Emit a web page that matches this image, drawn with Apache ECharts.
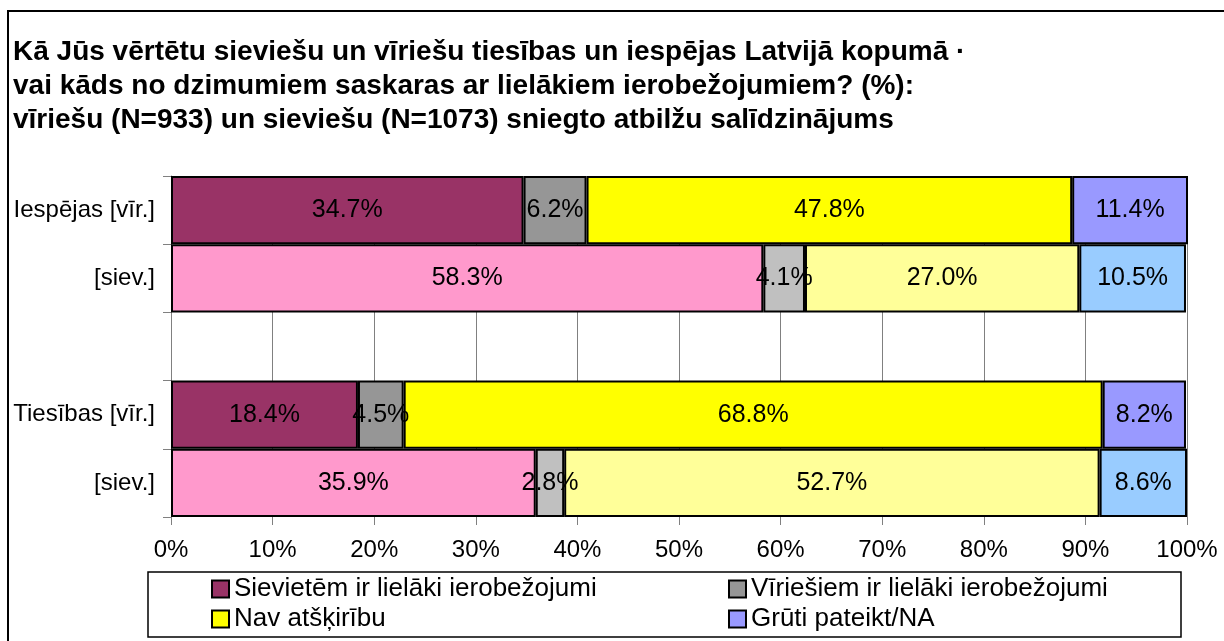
<!DOCTYPE html>
<html>
<head>
<meta charset="utf-8">
<script src="https://cdn.jsdelivr.net/npm/echarts@6/dist/echarts.min.js"></script>
<style>
  html, body { margin: 0; padding: 0; background: #fff; }
  #chart { width: 1224px; height: 641px; }
</style>
</head>
<body>
<div id="chart"></div>
<script>
var categories = ['Iespējas [vīr.]', '[siev.]', '', 'Tiesības [vīr.]', '[siev.]'];
var seriesNames = ['Sievietēm ir lielāki ierobežojumi', 'Vīriešiem ir lielāki ierobežojumi', 'Nav atšķirību', 'Grūti pateikt/NA'];
// values per row (same order as categories), null for the empty row
var sievietem = [34.7, 58.3, null, 18.4, 35.9];
var viriesiem = [6.2, 4.1, null, 4.5, 2.8];
var navAtskiribu = [47.8, 27.0, null, 68.8, 52.7];
var gruti = [11.4, 10.5, null, 8.2, 8.6];
var tickLabels = ['0%', '10%', '20%', '30%', '40%', '50%', '60%', '70%', '80%', '90%', '100%'];

var maleColors = ['#993366', '#969696', '#ffff00', '#9999ff'];
var femaleColors = ['#ff99cc', '#c0c0c0', '#ffff99', '#99ccff'];
var femaleRows = [1, 4];

var font = 'Liberation Sans, Arial, sans-serif';
var el = document.getElementById('chart');
var myChart = echarts.init(el);

function makeSeries(idx, values) {
  return {
    name: seriesNames[idx],
    type: 'bar',
    stack: 'total',
    barWidth: '100%',
    itemStyle: { color: maleColors[idx], borderColor: '#000', borderWidth: 2 },
    label: {
      show: true,
      position: 'inside',
      color: '#000',
      fontFamily: font,
      fontSize: 25,
      formatter: function (p) { return p.value.toFixed(1) + '%'; }
    },
    data: values.map(function (v, i) {
      if (v === null) return null;
      if (femaleRows.indexOf(i) >= 0) {
        return { value: v, itemStyle: { color: femaleColors[idx] } };
      }
      return v;
    })
  };
}

// one legend per entry so the two columns line up like the original
var legendPos = [[211, 576], [728, 576], [211, 606], [728, 606]];
var legends = seriesNames.map(function (name, i) {
  return {
    data: [name],
    left: legendPos[i][0],
    top: legendPos[i][1],
    itemWidth: 17,
    itemHeight: 17,
    itemGap: 0,
    icon: 'rect',
    itemStyle: { borderColor: '#000', borderWidth: 2 },
    textStyle: { fontFamily: font, fontSize: 26, color: '#000' },
    padding: 0,
    selectedMode: false
  };
});

var option = {
  animation: false,
  title: {
    text: 'Kā Jūs vērtētu sieviešu un vīriešu tiesības un iespējas Latvijā kopumā ·\nvai kāds no dzimumiem saskaras ar lielākiem ierobežojumiem? (%):\nvīriešu (N=933) un sieviešu (N=1073) sniegto atbilžu salīdzinājums',
    left: 8,
    top: 30,
    textStyle: { fontFamily: font, fontSize: 28, fontWeight: 'bold', color: '#000', lineHeight: 34 }
  },
  graphic: [
    { type: 'rect', shape: { x: 8, y: 11, width: 1230, height: 640 }, style: { fill: 'none', stroke: '#000', lineWidth: 2 }, z: -1 },
    { type: 'rect', shape: { x: 148, y: 572, width: 1033, height: 65 }, style: { fill: '#fff', stroke: '#000', lineWidth: 1.5 }, z: -1 }
  ],
  legend: legends,
  grid: { left: 171, right: 37, top: 176, bottom: 124 },
  xAxis: {
    type: 'value',
    min: 0,
    max: 100,
    interval: 10,
    axisLine: { show: false },
    axisTick: { show: true, length: 8, lineStyle: { color: '#808080' } },
    axisLabel: {
      fontFamily: font, fontSize: 24, color: '#000', margin: 21,
      formatter: function (v) { return tickLabels[Math.round(v / 10)]; }
    },
    splitLine: { show: true, lineStyle: { color: '#808080', width: 1 } }
  },
  yAxis: {
    type: 'category',
    inverse: true,
    data: categories,
    axisLine: { show: true, lineStyle: { color: '#808080', width: 1 } },
    axisTick: { show: true, length: 8, lineStyle: { color: '#808080' } },
    axisLabel: { fontFamily: font, fontSize: 24, color: '#000', margin: 16 }
  },
  series: [
    makeSeries(0, sievietem),
    makeSeries(1, viriesiem),
    makeSeries(2, navAtskiribu),
    makeSeries(3, gruti)
  ]
};

myChart.setOption(option);
window.addEventListener('resize', function () {
  myChart.resize();
});
</script>
</body>
</html>
